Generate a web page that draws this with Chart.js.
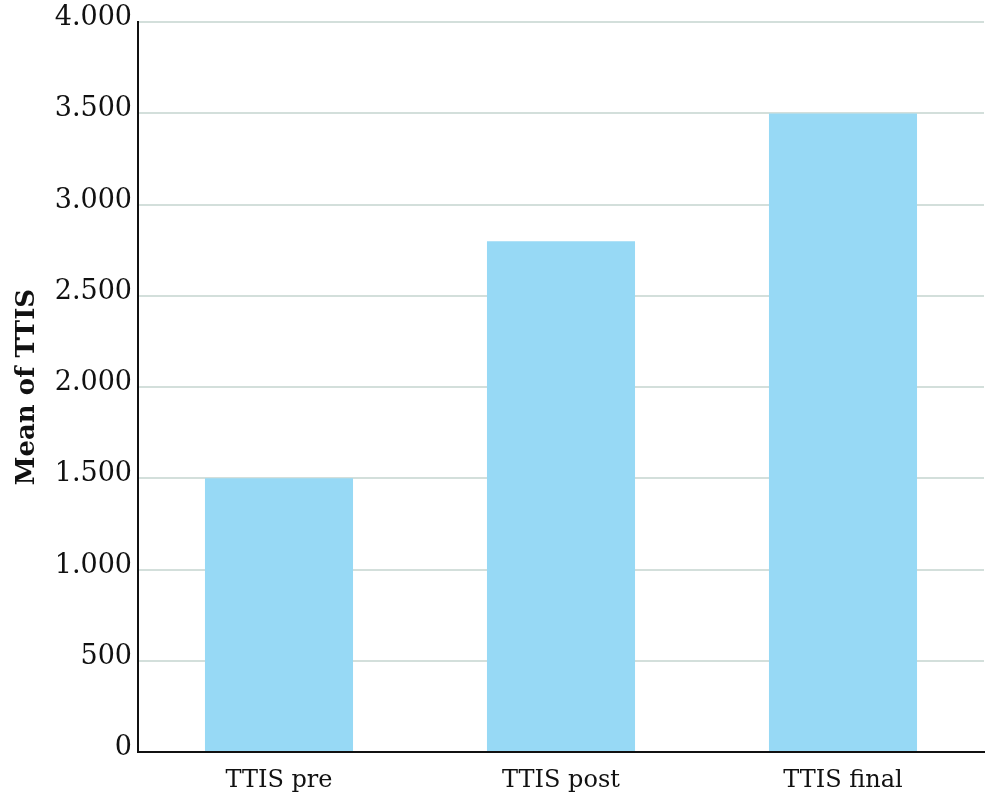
<!DOCTYPE html>
<html>
<head>
<meta charset="utf-8">
<script src="https://cdn.jsdelivr.net/npm/chart.js@4/dist/chart.umd.min.js"></script>
<style>
  html, body { margin: 0; padding: 0; background: #fff; }
  #wrap { width: 1000px; height: 808px; }
</style>
</head>
<body>
<div id="wrap"><canvas id="myChart" width="1000" height="808"></canvas></div>
<script>
const categories = ['TTIS pre', 'TTIS post', 'TTIS final'];
const meanValues = [1500, 2800, 3500];
const yTitle = 'Mean of TTIS';

const serif = '"DejaVu Serif", "Liberation Serif", serif';

function dotThousands(v) {
  return String(v).replace(/\B(?=(\d{3})+(?!\d))/g, '.');
}

const ctx = document.getElementById('myChart');
new Chart(ctx, {
  type: 'bar',
  data: {
    labels: categories,
    datasets: [{
      data: meanValues,
      backgroundColor: '#97d9f5',
      borderWidth: 0,
      categoryPercentage: 1,
      barPercentage: 0.525
    }]
  },
  options: {
    responsive: false,
    animation: false,
    layout: { padding: { top: 18, right: 16, left: 0, bottom: 0 } },
    plugins: { legend: { display: false }, tooltip: { enabled: false } },
    scales: {
      x: {
        grid: { display: false },
        border: { display: true, color: '#111', width: 2 },
        ticks: { color: '#111', padding: 6, font: { family: serif, size: 24 } },
        afterFit: function(scale) { scale.height = 56; }
      },
      y: {
        min: 0,
        max: 4000,
        grid: { color: '#d3dfdb', lineWidth: 2, drawTicks: false },
        border: { display: true, color: '#111', width: 2 },
        ticks: {
          stepSize: 500,
          color: '#111',
          padding: 6,
          labelOffset: -4,
          font: { family: serif, size: 27 },
          callback: function(v) { return dotThousands(v); }
        },
        title: {
          display: true,
          text: yTitle,
          color: '#111',
          padding: { top: 12, bottom: 0 },
          font: { family: serif, size: 26, weight: 'bold' }
        },
        afterFit: function(scale) { scale.width = 138; }
      }
    }
  }
});
</script>
</body>
</html>
